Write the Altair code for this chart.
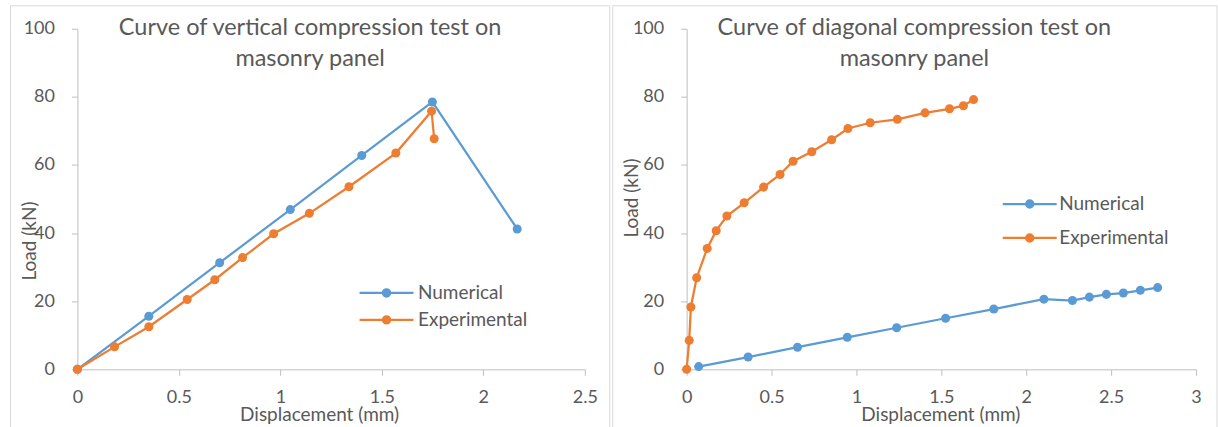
import altair as alt
import pandas as pd

series_names = ["Numerical", "Experimental"]
series_colors = ["#5B9BD5", "#ED7D31"]

# Vertical compression test
v_num_x = [0, 0.352, 0.701, 1.049, 1.401, 1.749, 2.167]
v_num_y = [0, 15.6, 31.3, 46.9, 62.8, 78.5, 41.2]
v_exp_x = [0, 0.183, 0.352, 0.541, 0.677, 0.814, 0.967, 1.143, 1.338, 1.569, 1.745, 1.758]
v_exp_y = [0, 6.6, 12.5, 20.5, 26.3, 32.8, 39.8, 45.8, 53.6, 63.5, 75.8, 67.7]

# Diagonal compression test
d_num_x = [0.071, 0.362, 0.653, 0.946, 1.237, 1.525, 1.809, 2.104, 2.272, 2.372, 2.472, 2.572, 2.672, 2.774]
d_num_y = [0.8, 3.6, 6.5, 9.4, 12.2, 15.0, 17.7, 20.6, 20.2, 21.2, 22.0, 22.4, 23.2, 24.0]
d_exp_x = [0, 0.015, 0.025, 0.059, 0.121, 0.174, 0.237, 0.339, 0.453, 0.550, 0.627, 0.737,
           0.854, 0.950, 1.081, 1.241, 1.404, 1.548, 1.630, 1.690]
d_exp_y = [0, 8.5, 18.3, 26.9, 35.5, 40.7, 45.0, 48.9, 53.5, 57.2, 61.1, 63.9,
           67.4, 70.7, 72.4, 73.4, 75.3, 76.5, 77.4, 79.2]

title_left = ["Curve of vertical compression test on", "masonry panel"]
title_right = ["Curve of diagonal compression test on", "masonry panel"]
x_ticks_left = [0, 0.5, 1, 1.5, 2, 2.5]
x_ticks_right = [0, 0.5, 1, 1.5, 2, 2.5, 3]
y_ticks = [0, 20, 40, 60, 80, 100]

FONT = "Lato"
TXT = "#595959"
AX = "#BFBFBF"
BORDER = "#D9D9D9"
SYMBOL = "M-6,0H6M-0.8,0A0.8,0.8,0,1,1,0.8,0A0.8,0.8,0,1,1,-0.8,0Z"


def make_df(nx, ny, ex, ey):
    rows = []
    for a, b in zip(nx, ny):
        rows.append({"x": a, "y": b, "series": series_names[0]})
    for a, b in zip(ex, ey):
        rows.append({"x": a, "y": b, "series": series_names[1]})
    return pd.DataFrame(rows)


def panel(df, title_lines, xmax, xticks, width, height, geo):
    one = pd.DataFrame({"k": [0]})
    x = alt.X("x:Q",
              scale=alt.Scale(domain=[0, xmax], nice=False, zero=False),
              axis=alt.Axis(values=xticks, format="~g", title="Displacement (mm)",
                            titleX=geo["xtx"], titleY=geo["xty"], titleAlign="center",
                            titleBaseline="alphabetic", labelFlush=False, labelOverlap=False))
    y = alt.Y("y:Q",
              scale=alt.Scale(domain=[0, 100], nice=False),
              axis=alt.Axis(values=y_ticks, title="Load (kN)",
                            titleX=geo["ytx"], titleY=geo["yty"], titleAlign="center",
                            titleBaseline="alphabetic", titleAngle=270,
                            labelFlush=False, labelOverlap=False))
    leg = alt.Legend(title=None, orient="none", legendX=geo["lx"], legendY=geo["ly"],
                     symbolType=SYMBOL, symbolSize=81, symbolStrokeWidth=2.25,
                     labelOffset=geo["lo"], rowPadding=geo["rp"], padding=0)
    stroke = alt.Stroke("series:N", scale=alt.Scale(domain=series_names, range=series_colors), legend=leg)
    fill = alt.Fill("series:N", scale=alt.Scale(domain=series_names, range=series_colors), legend=leg)

    border = alt.Chart(one).mark_rect(fill="transparent", stroke=BORDER, strokeWidth=1).encode(
        x=alt.value(geo["bx1"]), x2=alt.value(geo["bx2"]), y=alt.value(-23), y2=alt.value(410))
    title = alt.Chart(one).mark_text(text=title_lines, font=FONT, fontSize=23.5, color=TXT,
                                     align="center", baseline="alphabetic", lineHeight=31).encode(
        x=alt.value(geo["tx"]), y=alt.value(6))
    line = alt.Chart(df).mark_line(strokeWidth=2.25).encode(x=x, y=y, stroke=stroke)
    pts = alt.Chart(df).mark_circle(size=82, opacity=1).encode(x=x, y=y, fill=fill)
    return alt.layer(border, title, line, pts).properties(width=width, height=height)


left = panel(make_df(v_num_x, v_num_y, v_exp_x, v_exp_y), title_left, 2.5, x_ticks_left, 508, 341,
             dict(xtx=242, xty=51, ytx=-42, yty=212, lx=300, ly=255, lo=22, rp=7,
                  bx1=-67, bx2=533, tx=233))
right = panel(make_df(d_num_x, d_num_y, d_exp_x, d_exp_y), title_right, 3, x_ticks_right, 510, 341,
              dict(xtx=254, xty=51, ytx=-49, yty=169, lx=334, ly=166, lo=20, rp=14,
                   bx1=-74, bx2=531, tx=228))

chart = alt.hconcat(left, right, spacing=1).resolve_scale(
    fill="independent", stroke="independent", x="independent", y="independent"
).resolve_legend(fill="independent", stroke="independent").properties(
    padding={"left": 9.5, "top": 4.5, "right": 0, "bottom": 0}
).configure(background="white").configure_view(stroke=None).configure_axis(
    grid=False, domainColor=AX, tickColor=AX, tickSize=6, domainWidth=1, tickWidth=1,
    labelFont=FONT, labelFontSize=18, labelColor=TXT, labelPadding=17,
    titleFont=FONT, titleFontSize=19, titleColor=TXT, titleFontWeight="normal"
).configure_axisX(labelPadding=13).configure_legend(
    labelFont=FONT, labelFontSize=19, labelColor=TXT
)

chart.save("out.html", embed_options={"renderer": "svg", "actions": False})
